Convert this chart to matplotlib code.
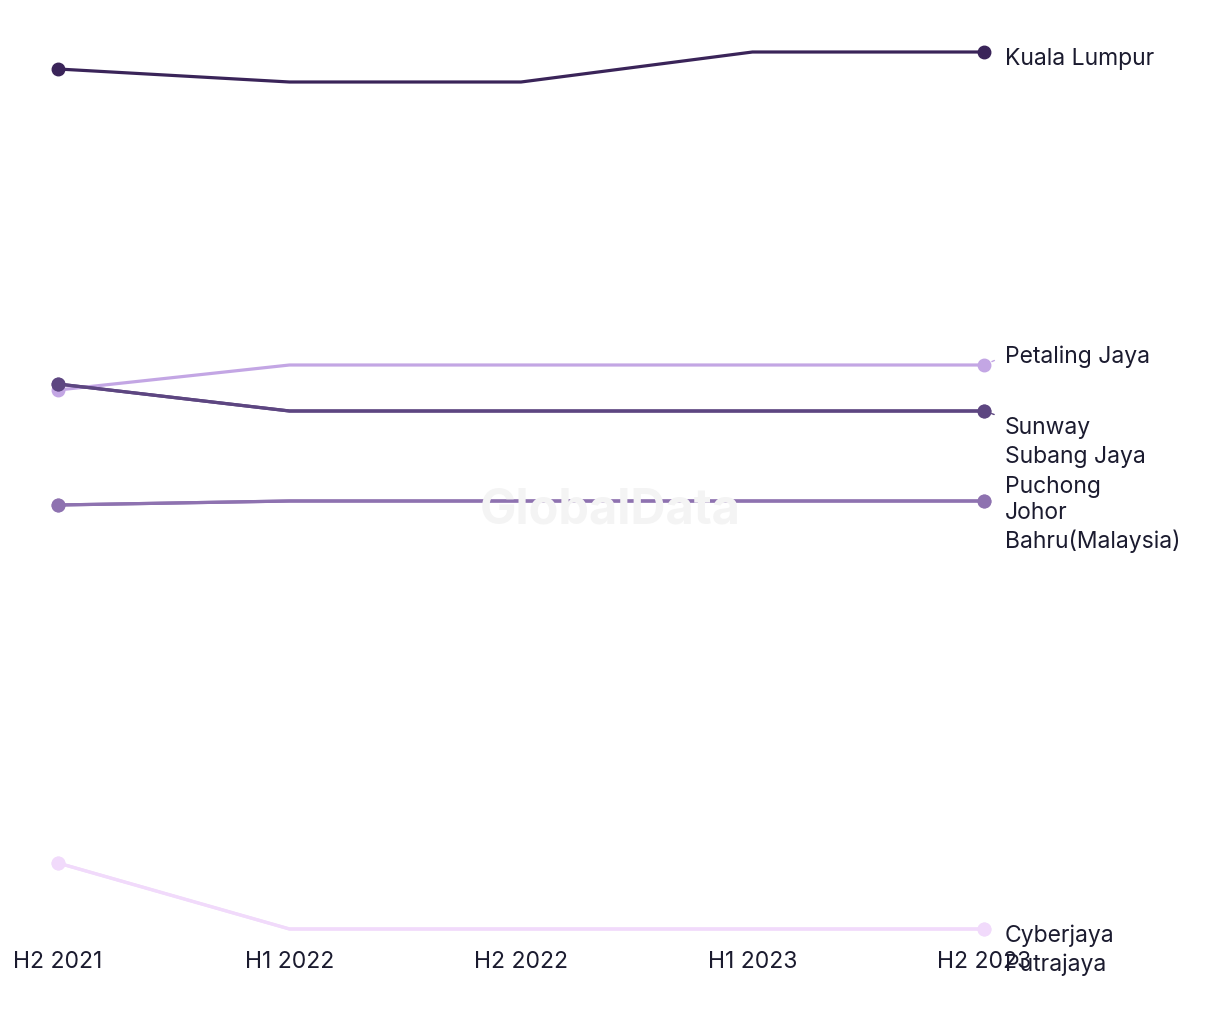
import matplotlib.pyplot as plt

plt.rcParams['font.family'] = ['Inter', 'DejaVu Sans']

periods = ['H2 2021', 'H1 2022', 'H2 2022', 'H1 2023', 'H2 2023']

kuala_lumpur = [10.60, 10.47, 10.47, 10.77, 10.77]
petaling_jaya = [7.39, 7.64, 7.64, 7.64, 7.64]
sunway = [7.45, 7.18, 7.18, 7.18, 7.18]
subang_jaya = [7.45, 7.18, 7.18, 7.18, 7.18]
puchong = [6.24, 6.28, 6.28, 6.28, 6.28]
johor_bahru = [6.24, 6.28, 6.28, 6.28, 6.28]
cyberjaya = [2.66, 2.00, 2.00, 2.00, 2.00]
putrajaya = [2.66, 2.00, 2.00, 2.00, 2.00]

# name, values, colour, label offset (pt), connector
series = [
    ('Cyberjaya', cyberjaya, '#f1dafb', -4.3, False),
    ('Putrajaya', putrajaya, '#f1dafb', -25.2, False),
    ('Puchong', puchong, '#8e72b0', 10.8, False),
    ('Johor\nBahru(Malaysia)', johor_bahru, '#8e72b0', -18.7, False),
    ('Petaling Jaya', petaling_jaya, '#c3a6e4', 6.5, True),
    ('Sunway', sunway, '#5d4681', -11.5, True),
    ('Subang Jaya', subang_jaya, '#5d4681', -32.4, False),
    ('Kuala Lumpur', kuala_lumpur, '#3a2459', -4.3, False),
]

fig = plt.figure(figsize=(12.2, 10.2), dpi=100)
ax = fig.add_axes([58 / 1220, 90 / 1020, 926 / 1220, 877 / 1020])

txt = '#1b1b2f'
fs = 16.5
x = list(range(len(periods)))
for name, vals, col, dy, conn in series:
    ax.plot(x, vals, color=col, lw=2.3, marker='o', ms=9, markevery=[0, len(x) - 1],
            clip_on=False, zorder=3)
    if conn:
        ax.annotate(name, xy=(x[-1], vals[-1]), xytext=(15, dy), textcoords='offset points',
                    ha='left', va='center', fontsize=fs, color=txt,
                    arrowprops=dict(arrowstyle='-', ls=(0, (2, 2)), color=col, lw=1,
                                    shrinkA=6, shrinkB=0,
                                    relpos=(0, 0.5 if dy > 0 else 0.9)))
    else:
        ax.annotate(name, xy=(x[-1], vals[-1]), xytext=(15, dy), textcoords='offset points',
                    ha='left', va='center', fontsize=fs, color=txt, linespacing=1.3)

ax.set_xlim(0, 4)
ax.set_ylim(2, 10.77)
ax.set_xticks(x)
ax.set_xticklabels(periods, fontsize=fs, color=txt)
ax.tick_params(axis='x', length=0, pad=15)
ax.set_yticks([])
for s in ax.spines.values():
    s.set_visible(False)

fig.text(0.5, 0.5, 'GlobalData', ha='center', va='center', fontsize=35,
         fontweight='bold', color='#f4f4f4', zorder=0)

fig.savefig('out.png', dpi=100, facecolor='white')
